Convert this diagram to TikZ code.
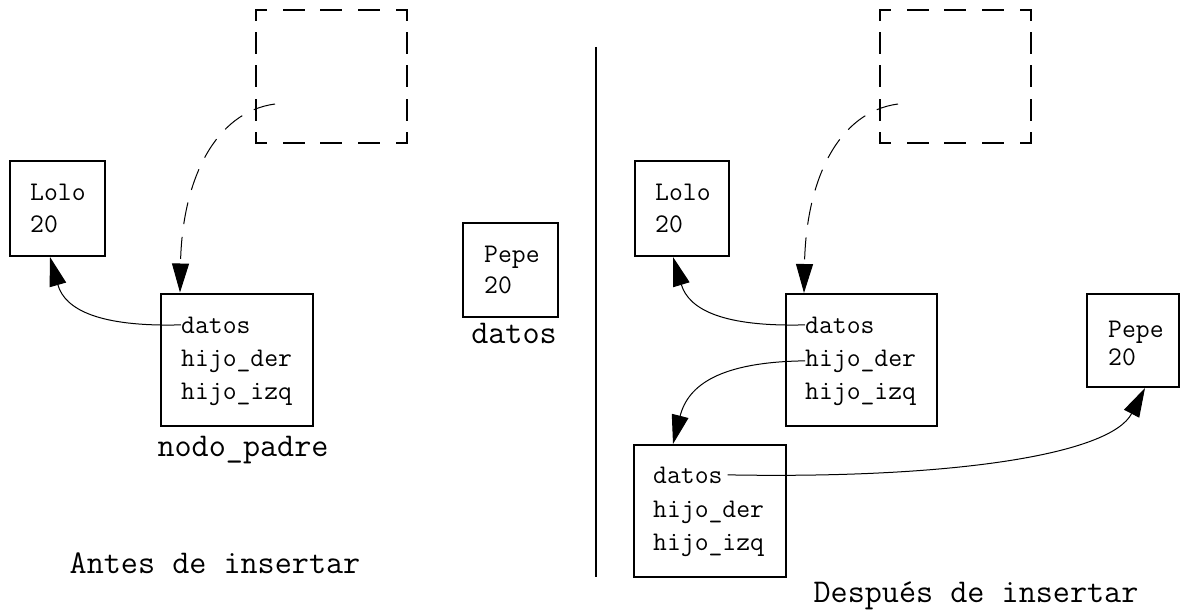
\documentclass[tikz,border=0pt]{standalone}
\usepackage{fontspec}
\usetikzlibrary{arrows.meta}
% dashed frame drawn side by side, so every corner gets an L-shaped dash
\newcommand\dashframe[1]{%
  \draw[frameside,dash pattern=on 20pt off 17.75pt,dash phase=10pt]
    (#1.north west) -- (#1.north east);
  \draw[frameside,dash pattern=on 20pt off 17.75pt,dash phase=10pt]
    (#1.south west) -- (#1.south east);
  \draw[frameside,dash pattern=on 20pt off 13.25pt,dash phase=10pt]
    (#1.north west) -- (#1.south west);
  \draw[frameside,dash pattern=on 20pt off 13.25pt,dash phase=10pt]
    (#1.north east) -- (#1.south east);}
\begin{document}
\begin{tikzpicture}[x=1pt,y=-1pt,
  box/.style={draw,line width=2pt,inner sep=0pt},
  ghost/.style={inner sep=0pt},
  frameside/.style={line width=2pt,line cap=rect},
  field/.style={font=\ttfamily\fontsize{26.9}{30}\selectfont,inner sep=0pt,anchor=base west},
  caption/.style={font=\ttfamily\fontsize{33.2}{38}\selectfont,inner sep=0pt,anchor=base},
  link/.style={line width=1pt,-{Triangle[length=29pt,width=17pt]}},
  dlink/.style={link,dash pattern=on 22pt off 13pt},
]
\useasboundingbox (0,0) rectangle (1184,610);

% ---------- before inserting ----------
\node[ghost,minimum width=151pt,minimum height=133pt] (dashL) at (331.5,76.5) {};
\dashframe{dashL}
\coordinate (ptrL) at (275,104);
\node[box,minimum width=95pt,minimum height=95pt] (loloL) at (57.5,208.5) {};
\node[field] (loloLa) at (30,200) {Lolo};
\node[field] (loloLb) at (30,232) {20};
\node[box,minimum width=152pt,minimum height=132pt] (padreL) at (237,359.5) {};
\node[field] (datosL) at (181,333) {datos};
\node[field] (derL) at (181,366) {hijo\_der};
\node[field] (izqL) at (181,399) {hijo\_izq};
\node[caption] (padreLbl) at (243,456) {nodo\_padre};
\node[caption] (antes) at (215,573) {Antes de insertar};

\draw[dlink] (ptrL) .. controls (215,112) and (182,180) .. ([xshift=-57pt]padreL.north);
\draw[link] (datosL.west) .. controls (100,327) and (65,310) .. ([xshift=-7.5pt]loloL.south);

% ---------- the new data ----------
\node[box,minimum width=95pt,minimum height=94pt] (pepeM) at (510.5,270) {};
\node[field] (pepeMa) at (484,262) {Pepe};
\node[field] (pepeMb) at (484,293) {20};
\node[caption] (datosM) at (514,343) {datos};

% divider
\draw[line width=1.5pt] (596,47) -- (596,577);

% ---------- after inserting ----------
\node[ghost,minimum width=151pt,minimum height=133pt] (dashR) at (955.5,76.5) {};
\dashframe{dashR}
\coordinate (ptrR) at (898,104);
\node[box,minimum width=94pt,minimum height=95pt] (loloR) at (682,208.5) {};
\node[field] (loloRa) at (655,200) {Lolo};
\node[field] (loloRb) at (655,232) {20};
\node[box,minimum width=151pt,minimum height=132pt] (padreR) at (861.5,360) {};
\node[field] (datosR) at (805,333) {datos};
\node[field] (derR) at (805,366) {hijo\_der};
\node[field] (izqR) at (805,399) {hijo\_izq};
\node[box,minimum width=152pt,minimum height=132pt] (hijoR) at (710,511) {};
\node[field] (datosH) at (653,483) {datos};
\node[field] (derH) at (653,517) {hijo\_der};
\node[field] (izqH) at (653,550) {hijo\_izq};
\node[box,minimum width=92pt,minimum height=93pt] (pepeR) at (1133,340.5) {};
\node[field] (pepeRa) at (1108,337) {Pepe};
\node[field] (pepeRb) at (1108,365) {20};
\node[caption] (despues) at (976,602) {Después de insertar};

\draw[dlink] (ptrR) .. controls (838,112) and (806,180) .. ([xshift=-57.5pt]padreR.north);
\draw[link] (datosR.west) .. controls (724,327) and (689,310) .. ([xshift=-9pt]loloR.south);
\draw[link] (derR.west) .. controls (720,362) and (688,385) .. ([xshift=-37pt]hijoR.north);
\draw[link] ([xshift=5pt]datosH.east) .. controls (950,479) and (1110,455) .. ([xshift=12pt]pepeR.south);
\end{tikzpicture}
\end{document}
